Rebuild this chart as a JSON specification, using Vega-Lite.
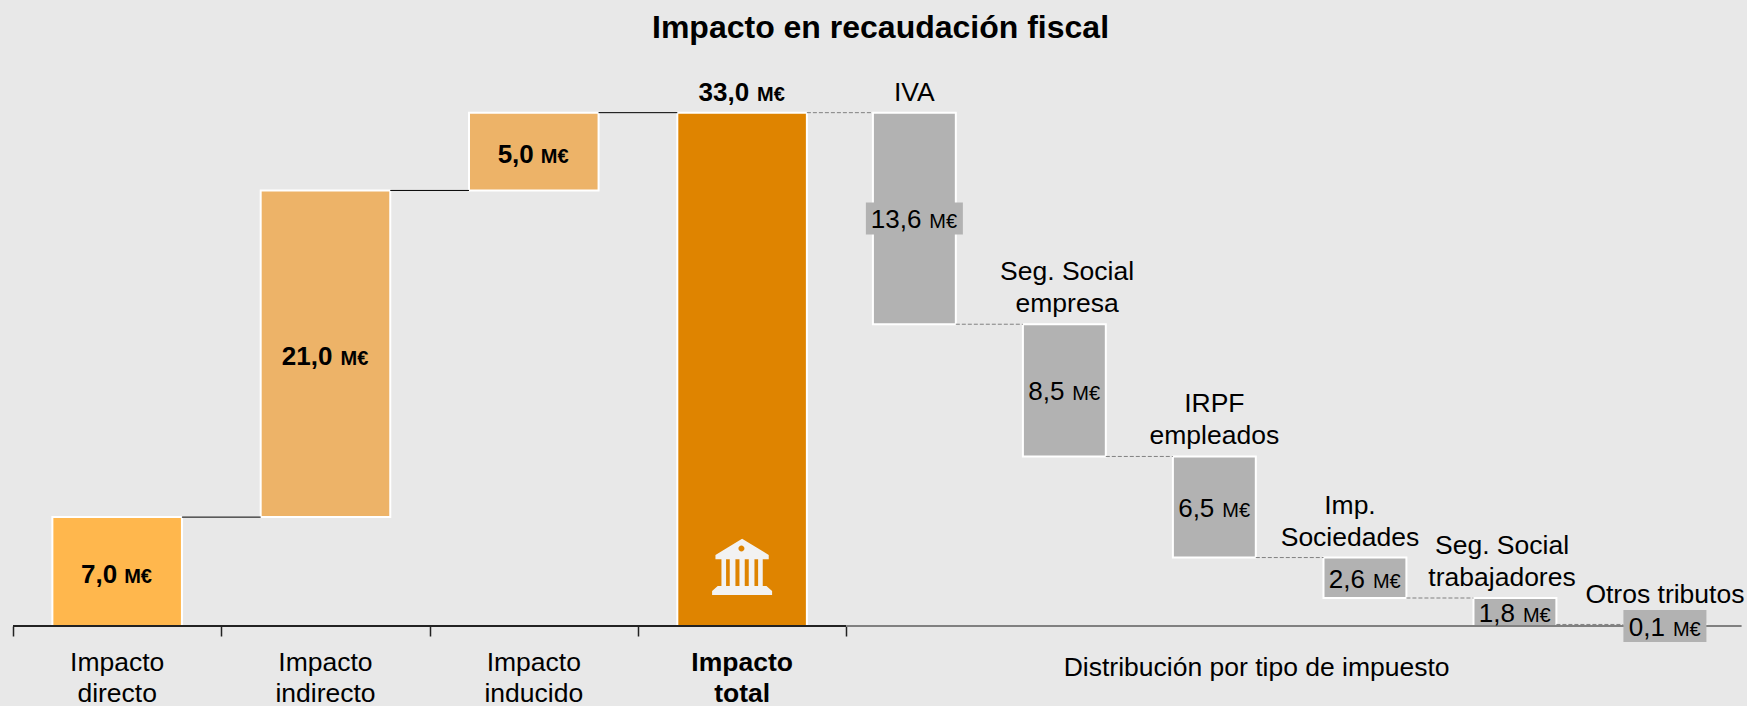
{
"$schema":"https://vega.github.io/schema/vega-lite/v6.json",
"autosize":{"type":"none"},
"width":1729,"height":560,
"padding":{"left":13,"right":5,"top":66,"bottom":80},
"background":"#e8e8e8",
"config":{"view":{"stroke":null},"font":"Liberation Sans"},
"title":{"text":"Impacto en recaudación fiscal","font":"Liberation Sans","fontSize":32,"fontWeight":"bold","color":"#000000","anchor":"middle","dx":3,"offset":21},
"datasets":{
"barras":[
{"concepto":"Impacto directo","numero":"7,0","unidad":"M€","inicio":0.189,"fin":0.811,"centro":0.5,"desde":0,"hasta":7,"medio":3.5,"grupo":"corto_b"},
{"concepto":"Impacto indirecto","numero":"21,0","unidad":"M€","inicio":1.189,"fin":1.811,"centro":1.5,"desde":7,"hasta":28,"medio":17.5,"grupo":"largo_b"},
{"concepto":"Impacto inducido","numero":"5,0","unidad":"M€","inicio":2.189,"fin":2.811,"centro":2.5,"desde":28,"hasta":33,"medio":30.5,"grupo":"corto_b"},
{"concepto":"Impacto total","numero":"33,0","unidad":"M€","inicio":3.189,"fin":3.811,"centro":3.5,"desde":0,"hasta":33,"medio":16.5,"grupo":"total"},
{"concepto":"IVA","numero":"13,6","unidad":"M€","inicio":4.128,"fin":4.526,"centro":4.327,"desde":33,"hasta":19.4,"medio":26.2,"grupo":"largo"},
{"concepto":"Seg. Social empresa","numero":"8,5","unidad":"M€","inicio":4.848,"fin":5.246,"centro":5.047,"desde":19.4,"hasta":10.9,"medio":15.15,"grupo":"corto"},
{"concepto":"IRPF empleados","numero":"6,5","unidad":"M€","inicio":5.568,"fin":5.966,"centro":5.767,"desde":10.9,"hasta":4.4,"medio":7.65,"grupo":"corto"},
{"concepto":"Imp. Sociedades","numero":"2,6","unidad":"M€","inicio":6.291,"fin":6.689,"centro":6.49,"desde":4.4,"hasta":1.8,"medio":3.1,"grupo":"corto"},
{"concepto":"Seg. Social trabajadores","numero":"1,8","unidad":"M€","inicio":7.011,"fin":7.409,"centro":7.21,"desde":1.8,"hasta":0,"medio":0.9,"grupo":"corto"},
{"concepto":"Otros tributos","numero":"0,1","unidad":"M€","inicio":7.731,"fin":8.129,"centro":7.93,"desde":0.1,"hasta":0,"medio":0,"grupo":"corto"}
],
"rotulos_abajo":[
{"rotulo":"Impacto\ndirecto","x":0.5},
{"rotulo":"Impacto\nindirecto","x":1.5},
{"rotulo":"Impacto\ninducido","x":2.5}
],
"rotulos_arriba":[
{"rotulo":"IVA","x":4.327,"y":33},
{"rotulo":"Otros tributos","x":7.93,"y":0.7}
],
"rotulos_arriba_dobles":[
{"rotulo":"Seg. Social\nempresa","x":5.06,"y":19.4},
{"rotulo":"IRPF\nempleados","x":5.767,"y":10.9},
{"rotulo":"Imp.\nSociedades","x":6.418,"y":4.4},
{"rotulo":"Seg. Social\ntrabajadores","x":7.148,"y":1.8}
],
"conectores":[
{"x0":0.811,"x1":1.189,"y":7},
{"x0":1.811,"x1":2.189,"y":28},
{"x0":2.811,"x1":3.189,"y":33}
],
"conectores_gris":[
{"x0":3.811,"x1":4.128,"y":33},
{"x0":4.526,"x1":4.848,"y":19.4},
{"x0":5.246,"x1":5.568,"y":10.9},
{"x0":5.966,"x1":6.291,"y":4.4},
{"x0":6.689,"x1":7.011,"y":1.8},
{"x0":7.409,"x1":7.731,"y":0.1}
]
},
"encoding":{
"x":{"type":"quantitative","scale":{"domain":[0,8.3],"nice":false,"zero":false},"axis":{"values":[0,1,2,3,4],"labels":false,"domain":false,"grid":false,"ticks":true,"tickColor":"#222222","tickSize":10,"tickWidth":1.5,"title":null}},
"y":{"type":"quantitative","scale":{"domain":[0,36],"nice":false},"axis":null}
},
"layer":[
{"data":{"name":"barras"},"mark":{"type":"rect","stroke":"#ffffff","strokeWidth":2},
"encoding":{"x":{"field":"inicio"},"x2":{"field":"fin"},"y":{"field":"desde"},"y2":{"field":"hasta"},
"color":{"field":"concepto","type":"nominal","legend":null,"sort":null,"scale":{"domain":["Impacto directo","Impacto indirecto","Impacto inducido","Impacto total","IVA","Seg. Social empresa","IRPF empleados","Imp. Sociedades","Seg. Social trabajadores","Otros tributos"],"range":["#ffb74d","#edb368","#edb368","#df8400","#b2b2b2","#b2b2b2","#b2b2b2","#b2b2b2","#b2b2b2","#b2b2b2"]}}}},
{"data":{"values":[{"x0":0,"x1":4}]},"mark":{"type":"rule","color":"#222222","strokeWidth":2},"encoding":{"x":{"field":"x0"},"x2":{"field":"x1"},"y":{"datum":0}}},
{"data":{"values":[{"x0":4,"x1":8.298}]},"mark":{"type":"rule","color":"#808080","strokeWidth":2},"encoding":{"x":{"field":"x0"},"x2":{"field":"x1"},"y":{"datum":0}}},
{"data":{"name":"conectores"},"mark":{"type":"rule","color":"#000000","strokeWidth":1},"encoding":{"x":{"field":"x0"},"x2":{"field":"x1"},"y":{"field":"y"}}},
{"data":{"name":"conectores_gris"},"mark":{"type":"rule","color":"#808080","strokeWidth":1,"strokeDash":[4,2]},"encoding":{"x":{"field":"x0"},"x2":{"field":"x1"},"y":{"field":"y"}}},
{"data":{"name":"barras"},"transform":[{"filter":"datum.numero==='13,6'"}],"mark":{"type":"tick","orient":"horizontal","size":97,"thickness":32,"color":"#b2b2b2","opacity":1},"encoding":{"x":{"field":"centro"},"y":{"field":"medio"}}},
{"data":{"name":"barras"},"transform":[{"filter":"datum.numero==='0,1'"}],"mark":{"type":"tick","orient":"horizontal","size":83,"thickness":32,"color":"#b2b2b2","opacity":1},"encoding":{"x":{"field":"centro"},"y":{"field":"medio"}}},
{"data":{"name":"barras"},"transform":[{"filter":"datum.grupo==='corto_b'"}],"mark":{"type":"text","align":"right","baseline":"alphabetic","fontSize":26,"fontWeight":"bold","dx":0,"dy":11,"color":"#000000"},"encoding":{"x":{"field":"centro"},"y":{"field":"medio"},"text":{"field":"numero"}}},
{"data":{"name":"barras"},"transform":[{"filter":"datum.grupo==='corto_b'"}],"mark":{"type":"text","align":"left","baseline":"alphabetic","fontSize":20,"fontWeight":"bold","dx":7,"dy":11,"color":"#000000"},"encoding":{"x":{"field":"centro"},"y":{"field":"medio"},"text":{"field":"unidad"}}},
{"data":{"name":"barras"},"transform":[{"filter":"datum.grupo==='largo_b'"}],"mark":{"type":"text","align":"right","baseline":"alphabetic","fontSize":26,"fontWeight":"bold","dx":7,"dy":11,"color":"#000000"},"encoding":{"x":{"field":"centro"},"y":{"field":"medio"},"text":{"field":"numero"}}},
{"data":{"name":"barras"},"transform":[{"filter":"datum.grupo==='largo_b'"}],"mark":{"type":"text","align":"left","baseline":"alphabetic","fontSize":20,"fontWeight":"bold","dx":15,"dy":11,"color":"#000000"},"encoding":{"x":{"field":"centro"},"y":{"field":"medio"},"text":{"field":"unidad"}}},
{"data":{"name":"barras"},"transform":[{"filter":"datum.grupo==='total'"}],"mark":{"type":"text","align":"right","baseline":"alphabetic","fontSize":26,"fontWeight":"bold","dx":7,"dy":-12,"color":"#000000"},"encoding":{"x":{"field":"centro"},"y":{"field":"hasta"},"text":{"field":"numero"}}},
{"data":{"name":"barras"},"transform":[{"filter":"datum.grupo==='total'"}],"mark":{"type":"text","align":"left","baseline":"alphabetic","fontSize":20,"fontWeight":"bold","dx":15,"dy":-12,"color":"#000000"},"encoding":{"x":{"field":"centro"},"y":{"field":"hasta"},"text":{"field":"unidad"}}},
{"data":{"name":"barras"},"transform":[{"filter":"datum.grupo==='largo'"}],"mark":{"type":"text","align":"right","baseline":"alphabetic","fontSize":26,"dx":7,"dy":10,"color":"#000000"},"encoding":{"x":{"field":"centro"},"y":{"field":"medio"},"text":{"field":"numero"}}},
{"data":{"name":"barras"},"transform":[{"filter":"datum.grupo==='largo'"}],"mark":{"type":"text","align":"left","baseline":"alphabetic","fontSize":20,"dx":15,"dy":10,"color":"#000000"},"encoding":{"x":{"field":"centro"},"y":{"field":"medio"},"text":{"field":"unidad"}}},
{"data":{"name":"barras"},"transform":[{"filter":"datum.grupo==='corto'"}],"mark":{"type":"text","align":"right","baseline":"alphabetic","fontSize":26,"dx":0,"dy":10,"color":"#000000"},"encoding":{"x":{"field":"centro"},"y":{"field":"medio"},"text":{"field":"numero"}}},
{"data":{"name":"barras"},"transform":[{"filter":"datum.grupo==='corto'"}],"mark":{"type":"text","align":"left","baseline":"alphabetic","fontSize":20,"dx":8,"dy":10,"color":"#000000"},"encoding":{"x":{"field":"centro"},"y":{"field":"medio"},"text":{"field":"unidad"}}},
{"data":{"name":"rotulos_arriba"},"mark":{"type":"text","align":"center","baseline":"alphabetic","fontSize":26.5,"dy":-12,"color":"#000000"},"encoding":{"x":{"field":"x"},"y":{"field":"y"},"text":{"field":"rotulo"}}},
{"data":{"name":"rotulos_arriba_dobles"},"mark":{"type":"text","align":"center","baseline":"alphabetic","lineBreak":"\n","lineHeight":32,"fontSize":26.5,"dy":-44,"color":"#000000"},"encoding":{"x":{"field":"x"},"y":{"field":"y"},"text":{"field":"rotulo"}}},
{"data":{"name":"rotulos_abajo"},"mark":{"type":"text","align":"center","baseline":"alphabetic","lineBreak":"\n","lineHeight":31,"fontSize":26.5,"dy":45,"color":"#000000"},"encoding":{"x":{"field":"x"},"y":{"datum":0},"text":{"field":"rotulo"}}},
{"data":{"values":[{"rotulo":"Impacto\ntotal","x":3.5}]},"mark":{"type":"text","align":"center","baseline":"alphabetic","lineBreak":"\n","lineHeight":31,"fontSize":26.5,"fontWeight":"bold","dy":45,"color":"#000000"},"encoding":{"x":{"field":"x"},"y":{"datum":0},"text":{"field":"rotulo"}}},
{"data":{"values":[{"rotulo":"Distribución por tipo de impuesto","x":5.97}]},"mark":{"type":"text","align":"center","baseline":"alphabetic","fontSize":26.5,"dy":50,"color":"#000000"},"encoding":{"x":{"field":"x"},"y":{"datum":0},"text":{"field":"rotulo"}}},
{"data":{"values":[{"icono":"Impacto total","x":3.5,"y":3.8}]},"mark":{"type":"point","filled":true,"opacity":1,"color":"#f2f2f2","size":14400,"strokeWidth":0,"shape":"M0,-.467L.444,-.2L.444,-.128L-.444,-.128L-.444,-.2ZM-.061,-.306A.05,.05 0 1,0 .039,-.306A.05,.05 0 1,0 -.061,-.306ZM-.344,-.128L-.267,-.128L-.267,.317L-.344,.317ZM-.206,-.128L-.111,-.128L-.111,.317L-.206,.317ZM-.044,-.128L.044,-.128L.044,.317L-.044,.317ZM.111,-.128L.206,-.128L.206,.317L.111,.317ZM.267,-.128L.344,-.128L.344,.317L.267,.317ZM-.406,.317L.406,.317L.5,.4L.5,.467L-.5,.467L-.5,.4Z"},"encoding":{"x":{"field":"x"},"y":{"field":"y"}}}
]
}
